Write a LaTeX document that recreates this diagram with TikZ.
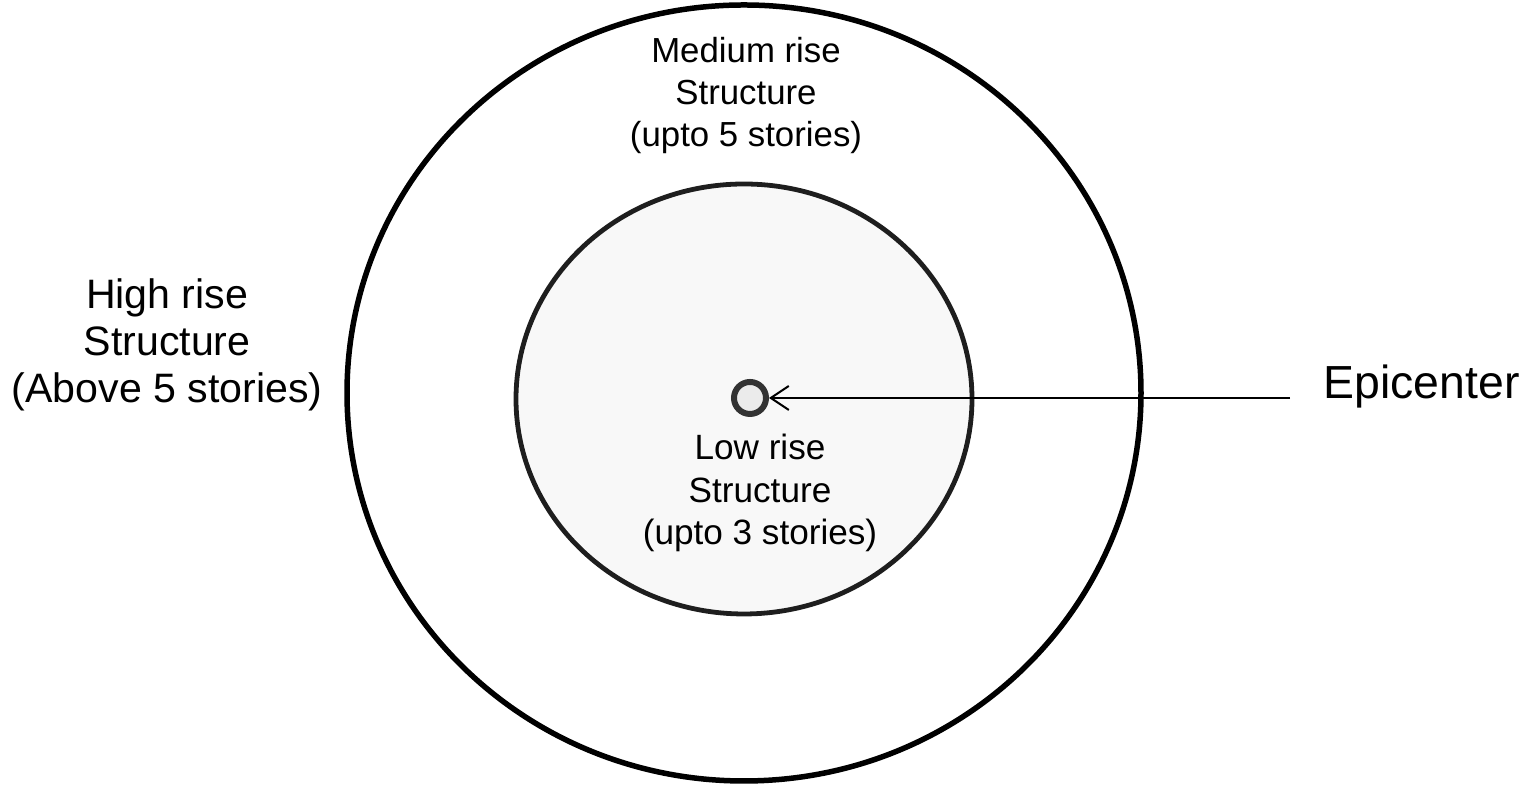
\documentclass[tikz,border=0pt]{standalone}
\usepackage{fontspec}
\setmainfont{Liberation Sans}
\usetikzlibrary{shapes.geometric, arrows.meta, positioning}
\definecolor{ringdark}{HTML}{1E1E1E}
\definecolor{ringfill}{HTML}{F8F8F8}
\definecolor{dotdark}{HTML}{333333}
\definecolor{dotfill}{HTML}{EBEBEB}

\begin{document}
\begin{tikzpicture}[
        zone/.style={ellipse, draw, inner sep=0pt},
        zonetext/.style={align=center, inner sep=0pt},
        line/.style={draw, line width=0.02cm, -{Straight Barb[length=0.18cm, width=0.24cm]}}
    ]
        \useasboundingbox (0,0) rectangle (15.32,7.86);
        % Zones
        \node[zone, line width=0.055cm, minimum width=7.94cm, minimum height=7.76cm] (outer) at (7.44,3.93) {};
        \node[zone, draw=ringdark, fill=ringfill, line width=0.048cm, minimum width=4.56cm, minimum height=4.30cm] (inner) at (7.44,3.87) {};
        % Epicenter point
        \node[circle, draw=dotdark, fill=dotfill, line width=0.06cm, minimum size=0.32cm, inner sep=0pt] (dot) at (7.50,3.88) {};
        % Zone labels
        \node[zonetext, font=\fontsize{11.7}{13.4}\selectfont, left=0.21cm of outer.west, yshift=0.48cm] (high) {High rise\\Structure\\(Above 5 stories)};
        \node[zonetext, font=\fontsize{9.9}{11.95}\selectfont, below=0.34cm of outer.north, xshift=0.02cm] (medium) {Medium rise\\Structure\\(upto 5 stories)};
        \node[zonetext, font=\fontsize{10}{12.2}\selectfont, below=0.16cm of dot, xshift=0.1cm] (low) {Low rise\\Structure\\(upto 3 stories)};
        \node[zonetext, inner xsep=0.33cm, font=\fontsize{13.2}{15}\selectfont, right=5.21cm of dot, anchor=base west, yshift=-0.01cm] (epi) {Epicenter};
        % Connection
        \path[line] (epi.base west |- dot) -- (dot);
    \end{tikzpicture}
\end{document}
